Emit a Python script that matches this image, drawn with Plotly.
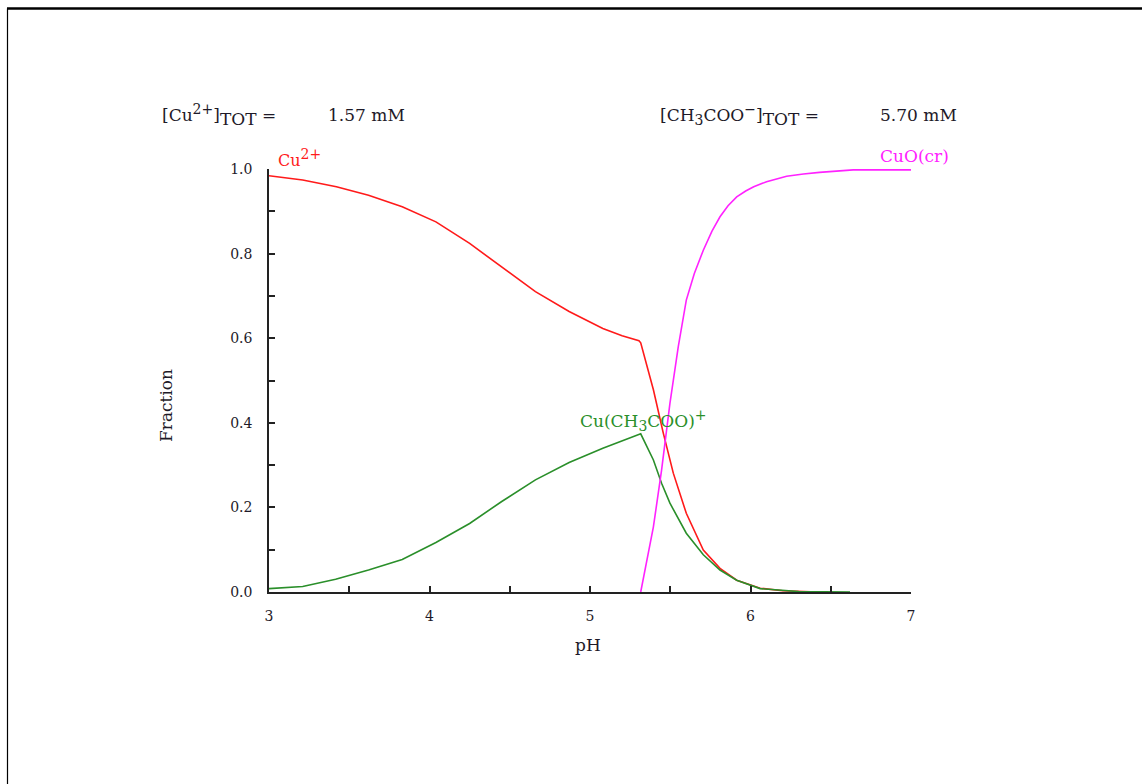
import plotly.graph_objects as go

# Species fractions of copper vs pH
ph_cu = [3.0, 3.21, 3.42, 3.62, 3.83, 4.04, 4.25, 4.45, 4.66, 4.87, 5.08, 5.2,
         5.305, 5.316, 5.395, 5.457, 5.519, 5.60, 5.706, 5.81, 5.914, 6.06, 6.2, 6.42]
frac_cu = [0.984, 0.974, 0.958, 0.938, 0.911, 0.875, 0.824, 0.769, 0.710, 0.663, 0.623, 0.606,
           0.594, 0.589, 0.478, 0.375, 0.281, 0.186, 0.099, 0.056, 0.028, 0.009, 0.003, 0.0]

ph_cuac = [3.0, 3.21, 3.415, 3.62, 3.83, 4.04, 4.25, 4.45, 4.66, 4.87, 5.08, 5.305,
           5.316, 5.395, 5.446, 5.498, 5.60, 5.706, 5.81, 5.914, 6.06, 6.3, 6.62]
frac_cuac = [0.008, 0.013, 0.030, 0.052, 0.077, 0.117, 0.162, 0.214, 0.265, 0.306, 0.340, 0.371,
             0.374, 0.312, 0.257, 0.210, 0.139, 0.088, 0.052, 0.028, 0.008, 0.001, 0.0]

ph_cuo = [5.316, 5.395, 5.446, 5.498, 5.55, 5.60, 5.65, 5.706, 5.76, 5.81, 5.86, 5.914,
          5.97, 6.02, 6.1, 6.225, 6.33, 6.43, 6.64, 7.0]
frac_cuo = [0.0, 0.154, 0.288, 0.446, 0.58, 0.69, 0.753, 0.808, 0.853, 0.887, 0.913, 0.934,
            0.948, 0.958, 0.970, 0.983, 0.988, 0.992, 0.998, 0.998]

x_ticks = [3, 3.5, 4, 4.5, 5, 5.5, 6, 6.5, 7]
x_labels = ["3", "", "4", "", "5", "", "6", "", "7"]
y_ticks = [0, 0.1, 0.2, 0.3, 0.4, 0.5, 0.6, 0.7, 0.8, 0.9, 1.0]
y_labels = ["0.0", "", "0.2", "", "0.4", "", "0.6", "", "0.8", "", "1.0"]

RED = "#ff1a1a"
GREEN = "#2a8f2a"
MAGENTA = "#ff22ff"
INK = "#1e1a28"
SERIF = "DejaVu Serif, Liberation Serif, serif"

W, H = 1142, 784
ML, MR, MT, MB = 269, 231, 169, 192
PW, PH = W - ML - MR, H - MT - MB


def px_x(px):
    return (px - ML) / PW


def px_y(py):
    return (H - MB - py) / PH


def big(s, size):
    # keep super/subscripts close to body size
    return f'<span style="font-size:{size}px">{s}</span>'


fig = go.Figure()
fig.add_trace(go.Scatter(x=ph_cu, y=frac_cu, mode="lines",
                         line=dict(color=RED, width=1.6), showlegend=False))
fig.add_trace(go.Scatter(x=ph_cuac, y=frac_cuac, mode="lines",
                         line=dict(color=GREEN, width=1.6), showlegend=False))
fig.add_trace(go.Scatter(x=ph_cuo, y=frac_cuo, mode="lines",
                         line=dict(color=MAGENTA, width=1.6), showlegend=False))

axis_common = dict(showgrid=False, zeroline=False, showline=True, linecolor="#222",
                   linewidth=1.5, ticks="inside", ticklen=6, tickwidth=1.5,
                   tickcolor="#222", tickfont=dict(family=SERIF, size=14, color=INK))

fig.update_xaxes(range=[3, 7], tickvals=x_ticks, ticktext=x_labels, ticklabelstandoff=10,
                 **axis_common)
fig.update_yaxes(range=[0, 1], tickvals=y_ticks, ticktext=y_labels, ticklabelstandoff=12,
                 **axis_common)

HS = 17
annos = [
    ("[Cu<sup>" + big("2+", 14) + "</sup>]<sub>" + big("TOT", HS) + "</sub> =", 160, 115, INK, HS),
    ("1.57 mM", 326, 115, INK, HS),
    ("[CH<sub>" + big("3", 14) + "</sub>COO<sup>" + big("\u2212", 14) + "</sup>]<sub>"
     + big("TOT", HS) + "</sub> =", 658, 115, INK, HS),
    ("5.70 mM", 878, 115, INK, HS),
    ("Cu<sup>" + big("2+", 14) + "</sup>", 276, 158, RED, 16),
    ("CuO(cr)", 878, 156, MAGENTA, 17),
    ("Cu(CH<sub>" + big("3", 14) + "</sub>COO)<sup>" + big("+", 14) + "</sup>", 578, 420, GREEN, 17),
]
for text, x, y, c, s in annos:
    fig.add_annotation(text=text, x=px_x(x), y=px_y(y), xref="paper", yref="paper",
                       xanchor="left", yanchor="middle", showarrow=False,
                       font=dict(family=SERIF, size=s, color=c))

# axis titles
fig.add_annotation(text="Fraction", x=px_x(166), y=px_y(406), xref="paper", yref="paper",
                   xanchor="center", yanchor="middle", textangle=-90, showarrow=False,
                   font=dict(family=SERIF, size=17, color=INK))
fig.add_annotation(text="pH", x=px_x(588), y=px_y(645), xref="paper", yref="paper",
                   xanchor="center", yanchor="middle", showarrow=False,
                   font=dict(family=SERIF, size=17, color=INK))

# outer frame lines (top and left)
fig.add_shape(type="line", xref="paper", yref="paper", x0=px_x(7), x1=px_x(1142),
              y0=px_y(8.5), y1=px_y(8.5), line=dict(color="black", width=2.5))
fig.add_shape(type="line", xref="paper", yref="paper", x0=px_x(7.5), x1=px_x(7.5),
              y0=px_y(8.5), y1=px_y(784), line=dict(color="black", width=1.2))

fig.update_layout(width=W, height=H, margin=dict(l=ML, r=MR, t=MT, b=MB),
                  paper_bgcolor="white", plot_bgcolor="white")

fig.write_html("out.html")
